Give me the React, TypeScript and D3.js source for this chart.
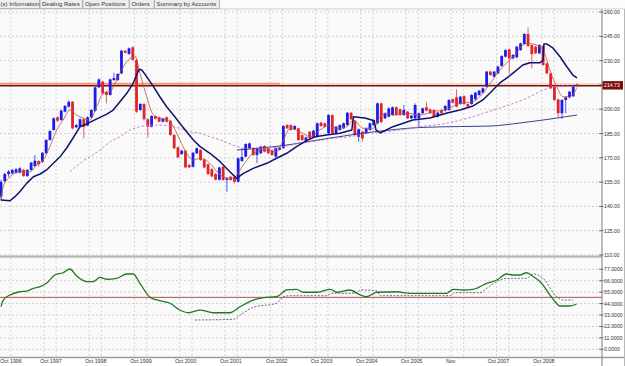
import React from 'react';
import * as d3 from 'd3';

const W = 625;
const H = 366;

// ---- Candles (monthly) ----
const open = [146,155.5,160,160.4,160.8,160.8,162.5,158.8,162.5,164.9,168,167.6,172.8,181,187.2,195,193.3,198.5,201.6,204.6,188.8,189.2,193.8,190,195,198.9,213.5,217,210.8,208.8,218,218,222.1,236.1,234.1,238.2,230.4,199.5,203.2,193.8,189.2,195.8,195,192.3,195,192.9,184.1,176.5,172.3,174.4,165.6,164.5,172.8,174.8,169,166,163,160,156.5,164.5,156.3,158.3,158,155.2,168,170.7,176,176,171.7,172.8,177.3,175.9,174.5,170.7,175,176,190.2,190.2,187.6,188.2,184,180,186.1,183,183,191.7,191.3,185.1,196.4,185.1,187.2,188.2,190.2,197.8,192.9,183,186.1,185.1,187.2,190.2,191.3,203.6,194.4,195.4,196.4,201.2,200,196.4,198.5,194.4,194.4,194.4,197.5,201.2,199.9,199.5,195.4,199.5,199.1,199.5,206.1,207.3,203.2,208.1,203.2,203.2,206.1,208.8,210.2,213.9,223.2,220.1,222.1,226.7,232.4,236.9,231.4,232,236.5,240.2,246.4,239.6,238.6,234.5,239,228.3,222.1,213.9,206,197.5,205.7,207.3,208,215.3];
const close = [155.2,160,161.5,162.5,162.9,163.5,158.8,162.5,167,168.2,166,173.1,181,186.5,194.4,192.9,199.1,202,204.6,188.2,190.2,193.8,189.2,195,199.5,213.5,218.4,209.8,208.8,218.4,219.2,221.7,236.1,234.9,237.6,230.4,198.5,203.2,193.8,189.2,195.8,194.1,192.3,194,192.3,184.1,175.9,170.3,174.4,164.1,164.1,173.1,175.9,168.6,164,160,158.5,156.5,164,156.3,157.3,156.3,155.2,169.7,170.5,178.5,178.9,171.7,175.9,176.9,173.8,172.8,171.7,175.9,176.2,189.6,188.2,187.2,189.6,181,181,182.6,182,186.7,191.3,189.6,189.2,196.4,185.1,189.2,190.2,191.3,197.8,193.8,184.1,187.6,182,188.2,191.3,193.3,203.6,192,197.5,200.5,201.2,196.4,196.4,199.5,194.4,196,202.6,197.5,200.5,199.1,197.5,195.4,197.9,197.5,202,205.7,204,201.6,207.7,203.2,201.6,208.8,210.2,211.4,212.9,223.2,221.1,223.2,226.3,232.8,236.5,231.4,233.5,238.6,240.6,246.4,239,234,234.5,239.6,227.3,222.1,212.9,205.7,197.5,205.7,207.3,210.8,213.9,214.73];
const high = [156.5,160.8,162.5,163.2,163.8,164.2,163.2,163,167.5,171.7,168.5,173.6,181.5,187.2,195,195.6,199.7,202.6,205.3,205,190.8,194.4,194.3,195.6,200,214,219,217.6,211.3,219,222.5,222.2,236.7,236.6,238.1,238.8,231,203.8,203.7,194.3,196.3,196.3,195.5,194.6,195.5,193.4,184.6,177,175,174.9,166.1,173.6,176.4,175.3,169.5,166.5,163.5,160.5,164.5,165,158,158.8,158.5,170.2,175.9,179,179.4,176.5,176.4,177.4,177.8,176.4,175,176.4,176.8,190.1,190.7,190.7,190.1,188.7,184.5,183.1,186.6,187.2,191.8,192.2,191.8,196.9,196.9,189.7,190.7,191.8,198.3,198.3,193.4,188.1,186.6,188.7,191.8,193.8,204.1,204.1,198,201,201.7,201.7,200.5,202.6,199,196.5,203.6,198,201,204.6,200.4,200,198.4,200,202.5,206.2,206.6,212.2,208.2,208.6,203.7,209.3,210.7,211.9,213.4,223.7,223.7,223.7,226.8,233.3,237,237.4,234,239.1,241.1,246.9,250.5,240.1,239.1,240.1,239.5,228.8,222.6,214.4,206.5,206.2,207.8,211.3,214.4,215.8];
const low = [143.5,155,158.3,159.8,160.2,160.3,158.2,158.2,162,164.5,164.5,167,172.3,180.5,186.8,192.3,192.8,198,201,187.5,188.2,188.8,182,189.5,194.5,198.4,213,209.2,203.6,208.3,217.5,217.5,221.6,234.3,233.6,230,197.8,199,193.2,182.6,188.7,193.6,191.8,191.8,191.7,183.6,175.3,169.8,171.8,163.6,163.6,164,172.3,168.1,163.5,159.4,158,156,156,155.8,149.1,155.8,154.2,154.8,167.5,170.2,175.5,171.2,166.6,172.3,173.3,172.3,171.2,170.2,174.5,175.5,187.7,186.7,187.1,180.5,180.5,179.5,181.5,182.5,182.5,189.1,188.7,184.6,184.6,184.6,186.7,187.7,189.7,193.3,183.6,180,180,184.6,186.7,189.7,190.8,191.3,193.9,194.9,195.9,195.9,195.9,195.9,193.9,193.9,193.9,189.2,197,198.6,197,194.9,194.9,197,198.6,199,203.5,201.1,202.7,202.7,201.1,202.7,205.6,208.3,209.7,213.4,220.6,219.6,221.6,226.2,231.9,222.1,230.9,231.5,236,239.7,238.5,225.2,234,234,226.8,221.6,212.4,205.2,195,194,197.5,206.8,207.5,213.5];

// ---- Indicator lines on the price pane: [bar index, price] ----
const sarLine = [[0,143.9],[2.4,143.5],[3.7,146.0],[5.0,149.1],[6.8,154.2],[8.6,158.3],[10.4,160.0],[12.1,162.5],[13.9,166.6],[15.7,170.7],[17.4,175.9],[18.8,181.0],[21.0,189.2],[22.8,190.9],[24.5,192.9],[26.3,195.0],[28.1,197.0],[29.8,199.5],[31.6,204.6],[33.4,209.8],[35.1,216.0],[36.0,221.1],[36.7,224.6],[37.4,224.2],[38.7,220.1],[40.5,213.9],[42.2,207.7],[44.0,201.5],[45.8,196.4],[47.5,191.3],[49.3,186.1],[51.1,181.0],[52.9,176.9],[55.5,172.8],[58.2,167.6],[60.8,161.4],[62.6,157.3],[64.4,160.4],[67.0,163.5],[70.6,166.6],[73.2,169.7],[75.9,172.8],[78.5,176.9],[81.2,180.6],[83.4,183.0],[86.5,184.1],[90.0,185.1],[93.2,187.2],[93.6,195.4],[96.7,194.6],[99.1,192.9],[99.6,187.2],[100.7,185.3],[104.1,189.2],[109.4,193.3],[113.9,194.6],[118.5,197.6],[121.9,199.5],[125.4,202.0],[128.0,205.7],[129.9,210.0],[132.5,216.2],[134.4,219.3],[136.0,222.3],[138.6,227.3],[140.5,228.7],[143.2,228.7],[144.0,230.4],[144.2,240.2],[145.0,240.2],[146.6,237.8],[148.5,232.4],[150.3,226.2],[151.9,221.1],[153.0,219.4]];
const fastMa = [[0,143.9],[0.6,152.2],[2.4,158.3],[5.0,161.4],[7.7,161.4],[9.5,165.6],[11.2,168.6],[13.0,176.9],[14.8,187.2],[16.5,193.3],[18.3,199.5],[20.1,196.4],[21.9,194.4],[23.6,193.3],[25.4,201.5],[27.2,209.8],[29.0,210.8],[30.7,218.0],[32.5,226.2],[34.3,231.4],[35.6,232.8],[36.9,222.2],[38.7,207.7],[40.5,196.4],[42.2,194.4],[44.0,193.8],[45.8,189.2],[47.5,181.0],[49.3,172.8],[51.1,168.6],[52.9,169.7],[55.5,166.6],[58.2,159.4],[60.8,157.3],[62.2,158.3],[64.4,165.6],[67.0,172.8],[70.6,174.8],[73.2,173.8],[75.0,181.0],[76.8,188.2],[79.4,186.1],[82.1,183.0],[84.7,187.2],[87.4,190.2],[89.2,188.2],[91.8,189.2],[93.6,193.3],[96.2,188.2],[98.9,188.2],[100.7,195.4],[102.4,197.5],[104.2,196.4],[107.8,197.5],[111.3,196.4],[114.8,198.5],[118.4,199.9],[121.9,203.6],[125.4,204.6],[129.0,212.9],[132.5,224.2],[136.1,232.4],[139.6,240.7],[142.3,239.6],[144.0,236.5],[145.8,224.2],[147.6,213.9],[149.3,207.7],[151.1,207.7],[152.9,212.9]];
const slowMa = [[18.3,161.4],[21.0,166.6],[23.6,170.7],[26.3,174.8],[29.0,179.9],[31.6,183.0],[34.3,187.2],[36.9,189.2],[39.6,190.2],[42.2,190.2],[44.9,189.6],[47.5,188.2],[50.2,186.1],[52.9,185.1],[55.5,183.0],[58.2,181.0],[61.7,177.9],[64.4,175.9],[70.6,175.9],[75.0,176.9],[79.4,179.0],[83.9,180.4],[88.3,182.0],[92.7,183.0],[97.1,185.1],[102.4,186.1],[106.0,187.2],[111.3,189.2],[118.4,191.3],[125.4,195.4],[130.8,199.5],[136.1,203.6],[140.5,207.7],[144.0,211.8],[146.7,213.9],[150.3,214.3],[152.9,213.9]];
const longMa = [[62.7,174.8],[74.1,177.3],[87.4,182.2],[100.7,186.5],[111.3,188.7],[121.9,189.3],[129.9,189.6],[137.8,191.5],[145.8,193.9],[153.0,196.4]];

// ---- Oscillator pane: [bar index, value] ----
const oscLine = [[0,41.0],[0.6,47.4],[2.4,52.3],[5.0,55.4],[6.8,56.1],[8.6,58.7],[10.4,60.3],[12.1,63.5],[14.3,71.5],[16.5,73.7],[18.3,77.3],[20.1,70.5],[22.8,65.1],[24.5,65.1],[26.3,69.3],[28.1,67.4],[30.7,68.3],[33.4,72.5],[35.1,72.5],[36.9,63.5],[39.6,50.0],[42.2,46.8],[44.9,44.3],[47.5,37.8],[49.8,35.2],[52.9,37.8],[56.4,35.2],[60.8,35.2],[63.5,41.0],[67.0,47.4],[69.7,49.7],[73.2,50.6],[75.9,57.1],[78.5,57.7],[80.3,54.9],[83.9,54.9],[87.4,57.7],[89.2,54.9],[92.7,57.1],[95.4,52.3],[97.1,50.6],[99.8,54.9],[105.1,55.4],[108.6,53.9],[118.4,53.9],[120.1,57.7],[122.8,57.1],[125.4,57.7],[129.0,63.5],[131.7,66.7],[134.3,72.5],[136.1,71.5],[137.8,71.5],[139.6,73.7],[141.4,69.9],[143.2,65.1],[146.7,48.1],[148.5,41.7],[151.1,41.7],[152.9,43.6]];
const oscSignal = [[51.5,28.2],[61.7,28.9],[63.5,33.0],[67.0,40.4],[73.2,44.3],[75.0,50.6],[76.8,51.6],[86.5,51.6],[87.8,53.9],[94.5,53.9],[95.4,57.1],[99.8,56.4],[100.7,51.6],[119.3,51.6],[120.6,54.5],[127.2,54.5],[129.0,58.7],[132.5,66.7],[134.3,68.3],[139.6,68.3],[141.4,72.5],[144.0,68.3],[147.6,50.6],[149.3,47.4],[151.9,47.4]];

const tabs = ['(s) Information', 'Dealing Rates', 'Open Positions', 'Orders', 'Summary by Accounts'];
const priceTicks = [260, 245, 230, 215, 200, 185, 170, 155, 140, 125, 110];
const oscTicks = [77, 66, 55, 44, 33, 22, 11, 0];
const dateLabels = ['Oct 1996', 'Oct 1997', 'Oct 1998', 'Oct 1999', 'Oct 2000', 'Oct 2001', 'Oct 2002', 'Oct 2003', 'Oct 2004', 'Oct 2005', 'Nov', 'Oct 2007', 'Oct 2008'];
const dateLabelBars = [-0.2, 10.4, 22.3, 34.3, 46.2, 58.2, 70.4, 82.3, 94.3, 106.2, 118.2, 129.3, 141.3];
const lastPrice = 214.73;
const oscLevel = 50;

export default function App() {
  const plotR = 602;
  const n = close.length;
  const x = d3.scaleLinear().domain([0, n - 1]).range([1, 577]);
  const y = d3.scaleLinear().domain([110, 260]).range([255, 12]);
  const yo = d3.scaleLinear().domain([0, 77]).range([349.3, 269.3]);
  const font = "'Liberation Sans', Arial, sans-serif";

  const gridA = d3.range(12).map((k) => 11.42 + 12.02 * k);
  const gridB = d3.range(13).map((k) => 2.6 + 12.03 * k);
  const vGrid = [...gridA, ...gridB];

  const lineP = d3.line<number[]>().x((d) => x(d[0])).y((d) => y(d[1])).curve(d3.curveMonotoneX);
  const lineO = d3.line<number[]>().x((d) => x(d[0])).y((d) => yo(d[1])).curve(d3.curveMonotoneX);
  const lineSar = d3.line<number[]>().x((d) => x(d[0])).y((d) => y(d[1]));

  const tabW = [40.7, 42.6, 46.2, 24.8, 65];
  let tx = -1;
  const tabPos = tabW.map((w) => { const p = tx; tx += w + 0.3; return p; });

  const blue = '#1c1ce8';
  const red = '#e2232a';

  return (
    <svg width={W} height={H} style={{ position: 'fixed', left: 0, top: 0, background: '#ffffff' }} fontFamily={font}>
      <defs>
        <clipPath id="mainClip"><rect x={0} y={9} width={plotR} height={246.5} /></clipPath>
        <clipPath id="oscClip"><rect x={0} y={258} width={plotR} height={99} /></clipPath>
      </defs>
      {/* plot backgrounds */}
      <rect x={0} y={9} width={plotR} height={247} fill="#fafafa" />
      <rect x={0} y={258} width={plotR} height={99} fill="#fafafa" />

      {/* grid */}
      <g stroke="#c9c9c9" strokeWidth={0.8} strokeDasharray="2,2">
        {priceTicks.map((t) => (
          <line key={'hp' + t} x1={0} x2={plotR} y1={y(t)} y2={y(t)} />
        ))}
        {oscTicks.map((t) => (
          <line key={'ho' + t} x1={0} x2={plotR} y1={yo(t)} y2={yo(t)} />
        ))}
        {vGrid.map((b, i) => (
          <g key={'v' + i}>
            <line x1={x(b)} x2={x(b)} y1={9} y2={255.5} />
            <line x1={x(b)} x2={x(b)} y1={258} y2={357} />
          </g>
        ))}
      </g>

      {/* last price lines */}
      <line x1={0} x2={280} y1={y(lastPrice) - 1.6} y2={y(lastPrice) - 1.6} stroke="#ee9a78" strokeWidth={1.8} />
      <line x1={280} x2={plotR} y1={y(lastPrice) - 1.4} y2={y(lastPrice) - 1.4} stroke="#f4b898" strokeWidth={1.1} />
      <line x1={0} x2={plotR} y1={y(lastPrice) + 0.3} y2={y(lastPrice) + 0.3} stroke="#7a1010" strokeWidth={1.5} />

      {/* candles */}
      <g clipPath="url(#mainClip)">
        {close.map((c, i) => {
          const o = open[i];
          const up = c >= o;
          const col = up ? blue : red;
          const top = y(Math.max(o, c));
          const h = Math.max(1, Math.abs(y(o) - y(c)));
          return (
            <g key={'c' + i}>
              <line x1={x(i)} x2={x(i)} y1={y(high[i])} y2={y(low[i])} stroke={col} strokeWidth={0.9} opacity={0.8} />
              <rect x={x(i) - 1.4} y={top} width={2.8} height={h} fill={col} />
            </g>
          );
        })}
        <path d={lineP(longMa) || ''} fill="none" stroke="#2a2a86" strokeWidth={0.9} />
        <path d={lineP(slowMa) || ''} fill="none" stroke="#d466d4" strokeWidth={0.9} strokeDasharray="2.5,2" />
        <path d={lineP(fastMa) || ''} fill="none" stroke="#b8573e" strokeWidth={0.8} />
        <path d={lineSar(sarLine) || ''} fill="none" stroke="#12126e" strokeWidth={1.5} strokeLinejoin="round" />
      </g>

      {/* oscillator pane */}
      <g clipPath="url(#oscClip)">
        <line x1={0} x2={plotR} y1={yo(oscLevel)} y2={yo(oscLevel)} stroke="#b03c3c" strokeWidth={0.9} />
        <path d={lineO(oscSignal) || ''} fill="none" stroke="#5a5a78" strokeWidth={0.9} strokeDasharray="2,1.5" />
        <path d={lineO(oscLine) || ''} fill="none" stroke="#1f7a1f" strokeWidth={1.3} />
      </g>

      {/* pane separator and frame */}
      <rect x={0} y={255.5} width={plotR} height={2.2} fill="#b5b5b5" />
      <line x1={0} x2={W} y1={357.5} y2={357.5} stroke="#9a9a9a" strokeWidth={1.4} />
      <line x1={602} x2={602} y1={9} y2={H} stroke="#808080" strokeWidth={1} />
      <line x1={624.5} x2={624.5} y1={9} y2={H} stroke="#b8b8b8" strokeWidth={1} />

      {/* price axis */}
      <g fontSize={5.2} fill="#333">
        {priceTicks.map((t) => (
          <g key={'pt' + t}>
            <line x1={599} x2={603.5} y1={y(t)} y2={y(t)} stroke="#555" strokeWidth={0.8} />
            <text x={604} y={y(t)} dominantBaseline="central">{d3.format('.2f')(t)}</text>
          </g>
        ))}
        {oscTicks.map((t) => (
          <g key={'ot' + t}>
            <line x1={599} x2={603.5} y1={yo(t)} y2={yo(t)} stroke="#555" strokeWidth={0.8} />
            <text x={604} y={yo(t)} dominantBaseline="central">{d3.format('.4f')(t)}</text>
          </g>
        ))}
      </g>
      <rect x={602.5} y={y(lastPrice) - 4.2} width={20.5} height={8.4} fill="#7a0c0c" />
      <text x={604} y={y(lastPrice)} dominantBaseline="central" fontSize={5.2} fill="#ffffff">{d3.format('.2f')(lastPrice)}</text>

      {/* date axis */}
      <g fontSize={5.3} fill="#333">
        {dateLabels.map((l, i) => (
          <text key={'d' + i} x={x(dateLabelBars[i])} y={363.3}>{l}</text>
        ))}
      </g>

      {/* tab bar */}
      <rect x={0} y={0} width={W} height={9} fill="#fbfbfb" />
      {tabs.map((t, i) => (
        <g key={'tab' + i}>
          <rect x={tabPos[i]} y={-1} width={tabW[i]} height={9.5} fill="#eeeeee" stroke="#9c9c9c" strokeWidth={0.7} />
          <text x={tabPos[i] + (i === 0 ? 1.5 : 2)} y={6.3} fontSize={6} fill="#333">{t}</text>
        </g>
      ))}
      <line x1={0} x2={W} y1={9} y2={9} stroke="#bdbdbd" strokeWidth={0.7} />
    </svg>
  );
}
